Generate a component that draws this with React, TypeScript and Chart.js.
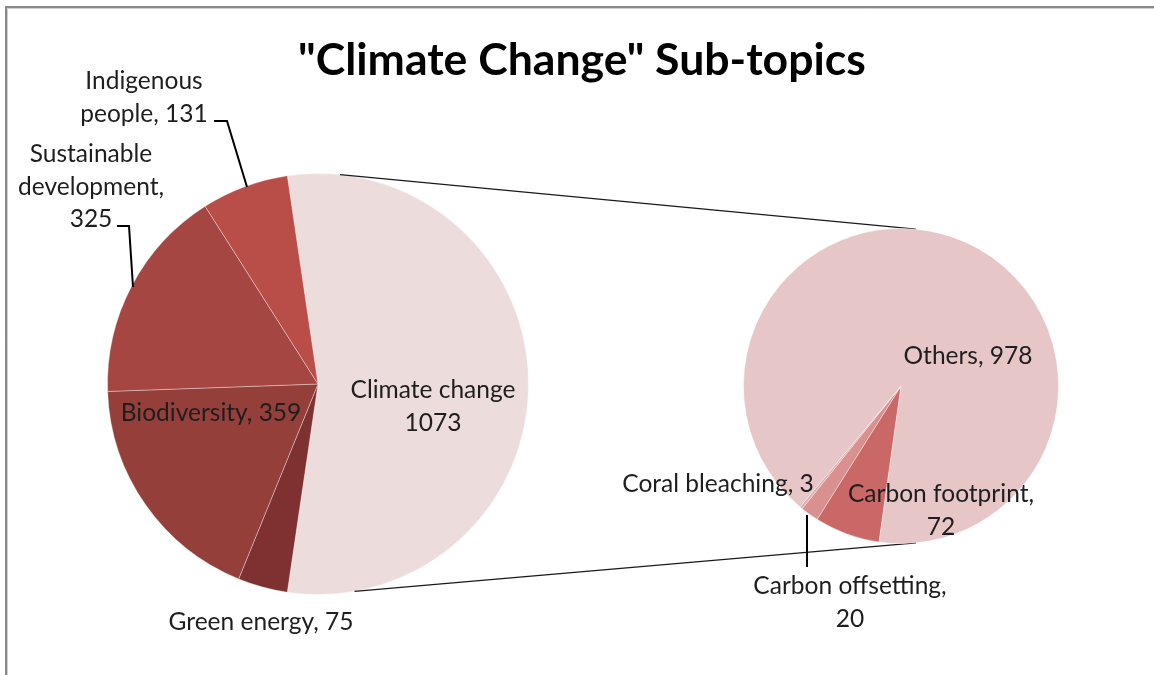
import React, { useEffect, useRef } from "react";
import { Chart, registerables } from "chart.js";

Chart.register(...registerables);

// ---------- data ----------
const titleText = '"Climate Change" Sub-topics';

const mainLabels = ["Climate change", "Green energy", "Biodiversity", "Sustainable development", "Indigenous people"];
const mainValues = [1073, 75, 359, 325, 131];
const mainColors = ["#EDDCDC", "#7F3131", "#953F3B", "#A64642", "#B94D48"];

const subLabels = ["Carbon footprint", "Carbon offsetting", "Coral bleaching", "Others"];
const subValues = [72, 20, 3, 978];
const subColors = ["#C96866", "#D9908F", "#E0AEAE", "#E6C6C6"];

// ---------- layout (positions / styles only) ----------
const W = 1154;
const H = 675;
const FONT = "Lato, 'Open Sans', sans-serif";
const TEXT_COLOR = "#1E1E1E";
const LINE_H = 32.5;

// label layout: x centre, first baseline, words per line, separator
type LabelLayout = { x: number; y: number; breaks: number[]; sep: string };
const mainLabelLayout: LabelLayout[] = [
  { x: 433, y: 398, breaks: [2, 1], sep: " " },
  { x: 261, y: 630, breaks: [3], sep: ", " },
  { x: 211, y: 421, breaks: [2], sep: ", " },
  { x: 91, y: 162, breaks: [1, 1, 1], sep: ", " },
  { x: 144, y: 89, breaks: [1, 2], sep: ", " },
];
const subLabelLayout: LabelLayout[] = [
  { x: 941, y: 502, breaks: [2, 1], sep: ", " },
  { x: 850, y: 594, breaks: [2, 1], sep: ", " },
  { x: 718, y: 492, breaks: [3], sep: ", " },
  { x: 968, y: 364, breaks: [2], sep: ", " },
];
// leader lines (label -> slice)
const mainLeaders: number[][][] = [
  [[214, 121], [227, 121], [247, 187]],
  [[117, 226], [129, 226], [133, 287]],
];
const subLeaders: number[][][] = [[[807, 515], [807, 567]]];
// connector angles (degrees clockwise from 12 o'clock)
const connMain = [6, 170];
const connSub = [5.4, 174.5];
const subRotation = 188;

function buildLines(label: string, value: number, lay: LabelLayout): string[] {
  const words = `${label}${lay.sep}${value}`.split(" ");
  const out: string[] = [];
  let i = 0;
  for (const n of lay.breaks) {
    out.push(words.slice(i, i + n).join(" "));
    i += n;
  }
  return out;
}

function fitSize(ctx: CanvasRenderingContext2D, text: string, weight: string, target: number) {
  ctx.font = `${weight} 100px ${FONT}`;
  const w = ctx.measureText(text).width;
  return (100 * target) / w;
}

function drawLabels(ctx: CanvasRenderingContext2D, labels: string[], values: number[], layout: LabelLayout[]) {
  const size = fitSize(ctx, "Green energy, 75", "normal", 185);
  ctx.save();
  ctx.font = `normal ${size}px ${FONT}`;
  ctx.fillStyle = TEXT_COLOR;
  ctx.textAlign = "center";
  ctx.textBaseline = "alphabetic";
  labels.forEach((lab, i) => {
    const lay = layout[i];
    buildLines(lab, values[i], lay).forEach((line, j) => {
      ctx.fillText(line, lay.x, lay.y + j * LINE_H);
    });
  });
  ctx.restore();
}

function drawPolylines(ctx: CanvasRenderingContext2D, lines: number[][][]) {
  ctx.save();
  ctx.strokeStyle = "#000";
  ctx.lineWidth = 2;
  lines.forEach((pts) => {
    ctx.beginPath();
    pts.forEach((p, k) => (k === 0 ? ctx.moveTo(p[0], p[1]) : ctx.lineTo(p[0], p[1])));
    ctx.stroke();
  });
  ctx.restore();
}

function ptOnArc(arc: any, deg: number) {
  const a = (deg * Math.PI) / 180;
  return { x: arc.x + arc.outerRadius * Math.sin(a), y: arc.y - arc.outerRadius * Math.cos(a) };
}

export default function App() {
  const mainRef = useRef<HTMLCanvasElement>(null);
  const subRef = useRef<HTMLCanvasElement>(null);

  useEffect(() => {
    const total = mainValues.reduce((a, b) => a + b, 0);
    const mainRotation = 90 - (mainValues[0] / total) * 180;

    const mainPlugin = {
      id: "mainDecor",
      beforeDraw(chart: any) {
        const ctx = chart.ctx as CanvasRenderingContext2D;
        ctx.save();
        ctx.fillStyle = "#fff";
        ctx.fillRect(0, 0, W, H);
        // frame
        ctx.strokeStyle = "#8A8A8A";
        ctx.lineWidth = 2;
        ctx.beginPath();
        ctx.moveTo(6, H);
        ctx.lineTo(6, 7);
        ctx.lineTo(W, 7);
        ctx.stroke();
        ctx.strokeStyle = "#D0D0D0";
        ctx.lineWidth = 1;
        ctx.beginPath();
        ctx.moveTo(7.5, H);
        ctx.lineTo(7.5, 8.5);
        ctx.lineTo(W, 8.5);
        ctx.stroke();
        // title
        const ts = fitSize(ctx, titleText, "bold", 568);
        ctx.font = `bold ${ts}px ${FONT}`;
        ctx.fillStyle = "#000";
        ctx.textAlign = "center";
        ctx.textBaseline = "alphabetic";
        ctx.fillText(titleText, 582, 75);
        ctx.restore();
      },
      afterDatasetsDraw(chart: any) {
        const ctx = chart.ctx as CanvasRenderingContext2D;
        drawLabels(ctx, mainLabels, mainValues, mainLabelLayout);
        drawPolylines(ctx, mainLeaders);
      },
    };

    const mainChart = new Chart(mainRef.current!, {
      type: "pie",
      data: {
        labels: mainLabels,
        datasets: [
          {
            data: mainValues,
            backgroundColor: mainColors,
            borderColor: "rgba(255,255,255,0.35)",
            borderWidth: 1,
          },
        ],
      },
      options: {
        responsive: false,
        animation: false,
        events: [],
        rotation: mainRotation,
        layout: { padding: { left: 107, top: 173, right: W - 529, bottom: H - 595 } },
        plugins: { legend: { display: false }, tooltip: { enabled: false }, title: { display: false } },
      },
      plugins: [mainPlugin],
    } as any);

    const subPlugin = {
      id: "subDecor",
      beforeDatasetsDraw(chart: any) {
        const ctx = chart.ctx as CanvasRenderingContext2D;
        const mArc = mainChart.getDatasetMeta(0).data[0] as any;
        const sArc = chart.getDatasetMeta(0).data[0] as any;
        ctx.save();
        ctx.strokeStyle = "#1A1A1A";
        ctx.lineWidth = 1.3;
        for (let k = 0; k < 2; k++) {
          const a = ptOnArc(mArc, connMain[k]);
          const b = ptOnArc(sArc, connSub[k]);
          ctx.beginPath();
          ctx.moveTo(a.x, a.y);
          ctx.lineTo(b.x, b.y);
          ctx.stroke();
        }
        ctx.restore();
      },
      afterDatasetsDraw(chart: any) {
        const ctx = chart.ctx as CanvasRenderingContext2D;
        drawPolylines(ctx, subLeaders);
        drawLabels(ctx, subLabels, subValues, subLabelLayout);
      },
    };

    const subChart = new Chart(subRef.current!, {
      type: "pie",
      data: {
        labels: subLabels,
        datasets: [
          {
            data: subValues,
            backgroundColor: subColors,
            borderColor: "rgba(255,255,255,0.35)",
            borderWidth: 1,
          },
        ],
      },
      options: {
        responsive: false,
        animation: false,
        events: [],
        rotation: subRotation,
        layout: { padding: { left: 743, top: 228, right: W - 1059, bottom: H - 544 } },
        plugins: { legend: { display: false }, tooltip: { enabled: false }, title: { display: false } },
      },
      plugins: [subPlugin],
    } as any);

    return () => {
      subChart.destroy();
      mainChart.destroy();
    };
  }, []);

  const cs: React.CSSProperties = { position: "absolute", left: 0, top: 0, width: W, height: H };
  return (
    <div style={{ position: "absolute", left: 0, top: 0, width: W, height: H, background: "#fff" }}>
      <canvas ref={mainRef} width={W} height={H} style={cs} />
      <canvas ref={subRef} width={W} height={H} style={cs} />
    </div>
  );
}
